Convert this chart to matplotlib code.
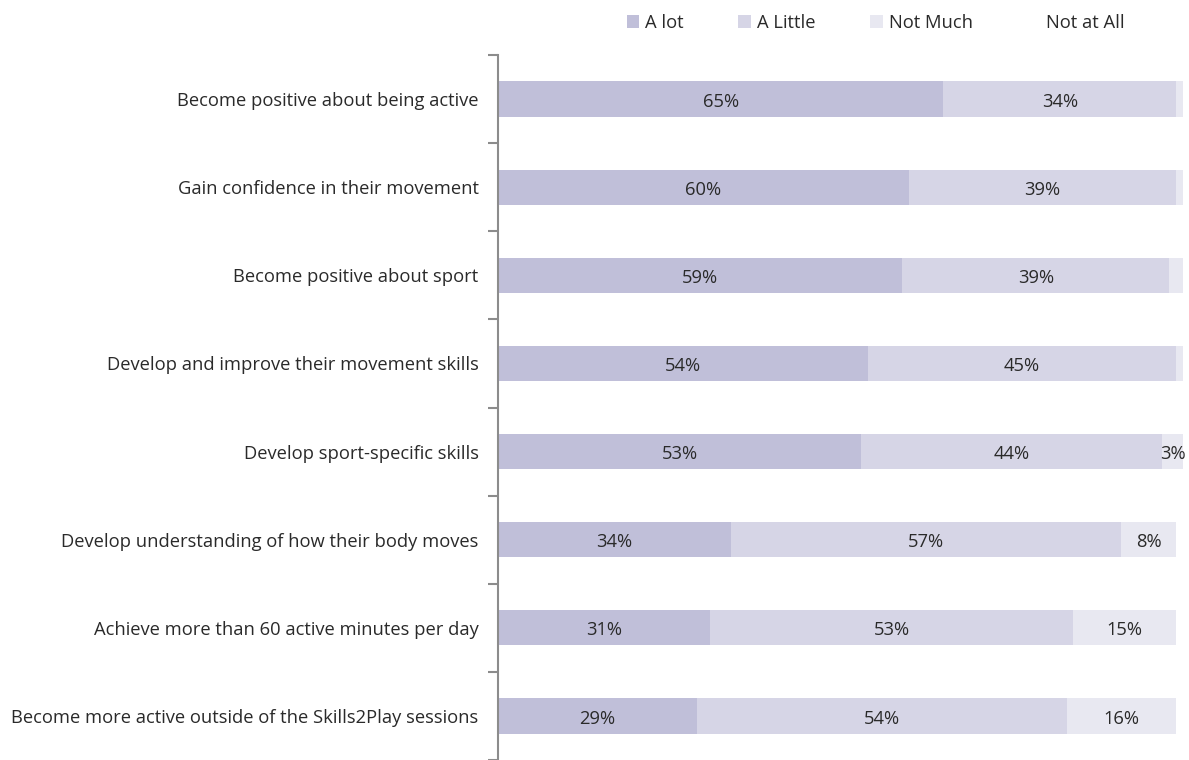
import numpy as np
import matplotlib.pyplot as plt

plt.rcParams['font.family'] = ['Open Sans', 'DejaVu Sans']

categories = [
    "Become positive about being active",
    "Gain confidence in their movement",
    "Become positive about sport",
    "Develop and improve their movement skills",
    "Develop sport-specific skills",
    "Develop understanding of how their body moves",
    "Achieve more than 60 active minutes per day",
    "Become more active outside of the Skills2Play sessions",
]
series_names = ["A lot", "A Little", "Not Much", "Not at All"]
a_lot = [65, 60, 59, 54, 53, 34, 31, 29]
a_little = [34, 39, 39, 45, 44, 57, 53, 54]
not_much = [1, 1, 2, 1, 3, 8, 15, 16]
not_at_all = [0, 0, 0, 0, 0, 0, 0, 0]

colors = ["#c0bfd9", "#d6d5e6", "#e8e8f1", "#ffffff"]
text_col = "#2a2a2a"
fs = 13.2

fig = plt.figure(figsize=(11.89, 7.6), dpi=100)
ax = fig.add_axes([498 / 1189, 0.0, 685 / 1189, 1 - 55 / 760])

y = np.arange(len(categories))
left = np.zeros(len(categories))
for name, vals, c in zip(series_names, [a_lot, a_little, not_much, not_at_all], colors):
    vals = np.array(vals, dtype=float)
    ax.barh(y, vals, left=left, height=0.4, color=c, label=name)
    # percentage labels, skipped for slivers too thin to hold text
    for yi, l, v in zip(y, left, vals):
        if v >= 3:
            ax.text(l + v / 2, yi + 0.03, f"{int(v)}%", ha="center", va="center",
                    fontsize=fs, color=text_col)
    left += vals

ax.set_xlim(0, 100)
ax.set_ylim(len(categories) - 0.5, -0.5)
ax.set_yticks(y)
ax.set_yticklabels(categories, fontsize=fs, color=text_col)
# tick marks sit between categories
ax.set_yticks(np.arange(-0.5, len(categories), 1), minor=True)
ax.tick_params(axis="y", which="major", length=0, pad=14)
ax.tick_params(axis="y", which="minor", length=7, width=1.5, color="#8c8c8c")
ax.set_xticks([])
for s in ["top", "right", "bottom"]:
    ax.spines[s].set_visible(False)
ax.spines["left"].set_color("#8c8c8c")
ax.spines["left"].set_linewidth(1.5)

fig.legend(loc="upper left", bbox_to_anchor=(610 / 1189, 1.003), ncol=4,
           frameon=False, fontsize=fs, handlelength=0.7, handleheight=0.7,
           handletextpad=0.3, columnspacing=3.0, labelcolor=text_col)

fig.savefig("out.png", dpi=100)
